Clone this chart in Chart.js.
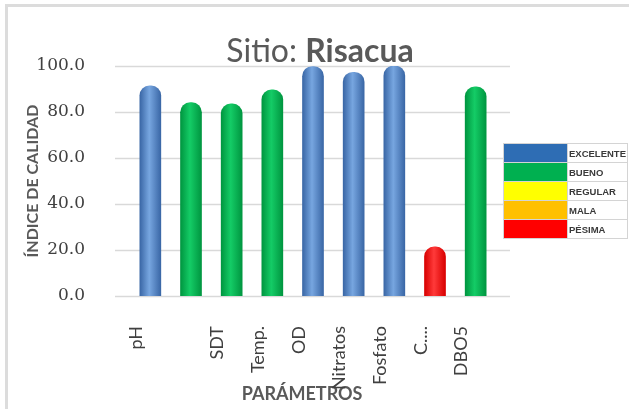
<!DOCTYPE html>
<html>
<head>
<meta charset="utf-8">
<script src="https://cdn.jsdelivr.net/npm/chart.js@4/dist/chart.umd.min.js"></script>
<style>
  body { margin: 0; background: #fff; }
  .wrap { position: relative; width: 629px; height: 409px; overflow: hidden; }
  .frame-l { position: absolute; left: 5px; top: 4px; width: 3px; height: 405px; background: #dcdcdc; }
  .frame-t { position: absolute; left: 5px; top: 4px; width: 624px; height: 3px; background: #dcdcdc; }
  canvas { position: absolute; left: 0; top: 0; }
  .title { position: absolute; left: 0; width: 640px; top: 30px; text-align: center;
    font-family: Lato, "Open Sans", sans-serif; font-size: 32px; color: #595959; }
  .title b { font-weight: bold; }
  table.leyenda { position: absolute; left: 503px; top: 143px; border-collapse: collapse; }
  table.leyenda td { border: 1px solid #d4d4d4; height: 18px; padding: 0; }
  table.leyenda td.sw { width: 63px; }
  table.leyenda td.tx { width: 58px; font-family: "Liberation Sans Narrow", "Liberation Sans", sans-serif;
    font-size: 9.5px; font-weight: bold; color: #3a3a3a; padding-left: 1px; }
</style>
</head>
<body>
<div class="wrap">
  <div class="frame-t"></div>
  <div class="frame-l"></div>
  <canvas id="chart" width="629" height="409"></canvas>
  <div class="title">Sitio: <b>Risacua</b></div>
  <table class="leyenda" id="leyenda"></table>
</div>
<script>
const parametros = ['pH', '', 'SDT', 'Temp.', 'OD', 'Nitratos', 'Fosfato', 'C....', 'DBO5']
const indice = [91.4, 84.1, 83.5, 89.6, 99.8, 97.3, 100, 21.4, 90.9]
const calidad = ['EXCELENTE', 'BUENO', 'BUENO', 'BUENO', 'EXCELENTE', 'EXCELENTE', 'EXCELENTE', 'PÉSIMA', 'BUENO']
const niveles = ['EXCELENTE', 'BUENO', 'REGULAR', 'MALA', 'PÉSIMA']
const nivelColores = ['#2E6DB4', '#00B050', '#FFFF00', '#FFC000', '#FF0000']
const yTicks = [0, 20, 40, 60, 80, 100]

// colores del cilindro: borde, centro
const cilindro = {
  'EXCELENTE': ['#3A67A6', '#77A6E0'],
  'BUENO': ['#009640', '#14CC66'],
  'PÉSIMA': ['#D80000', '#FF3A3A']
}

// leyenda
const tabla = document.getElementById('leyenda')
niveles.forEach((n, i) => {
  const tr = document.createElement('tr')
  tr.innerHTML = '<td class="sw" style="background:' + nivelColores[i] + '"></td><td class="tx">' + n + '</td>'
  tabla.appendChild(tr)
})

const BAR_W = 21

function barFill (c) {
  const chart = c.chart
  const pair = cilindro[calidad[c.dataIndex]]
  const xs = chart.scales.x
  if (!chart.chartArea || !xs) return pair[0]
  const cx = xs.getPixelForValue(c.dataIndex)
  const g = chart.ctx.createLinearGradient(cx - BAR_W / 2, 0, cx + BAR_W / 2, 0)
  g.addColorStop(0, pair[0])
  g.addColorStop(0.45, pair[1])
  g.addColorStop(1, pair[0])
  return g
}

const gridPlugin = {
  id: 'gridExt',
  beforeDatasetsDraw (chart) {
    const { ctx, chartArea } = chart
    const y = chart.scales.y
    ctx.save()
    ctx.strokeStyle = '#d9d9d9'
    ctx.lineWidth = 1.5
    yTicks.forEach(v => {
      const py = Math.round(y.getPixelForValue(v)) + 0.5
      ctx.beginPath()
      ctx.moveTo(chartArea.left - 15, py)
      ctx.lineTo(chartArea.right + 14, py)
      ctx.stroke()
    })
    ctx.restore()
  }
}

new Chart(document.getElementById('chart').getContext('2d'), {
  type: 'bar',
  data: {
    labels: parametros,
    datasets: [{
      data: indice,
      backgroundColor: barFill,
      barThickness: BAR_W,
      borderRadius: { topLeft: 10, topRight: 10, bottomLeft: 0, bottomRight: 0 },
      borderSkipped: false
    }]
  },
  options: {
    responsive: false,
    animation: false,
    layout: { padding: { left: 8, top: 66, right: 133, bottom: 4 } },
    plugins: { legend: { display: false }, tooltip: { enabled: false } },
    scales: {
      y: {
        min: 0,
        max: 100,
        afterFit: s => { s.width = 122 },
        grid: { display: false },
        border: { display: false },
        ticks: {
          stepSize: 20,
          padding: 37,
          color: '#404040',
          font: { family: 'DejaVu Serif', size: 17 },
          callback: v => v.toFixed(1)
        },
        title: {
          display: true,
          text: 'ÍNDICE DE CALIDAD',
          color: '#595959',
          padding: { top: 15, bottom: 0 },
          font: { family: 'Lato', size: 16, weight: 'bold' }
        }
      },
      x: {
        afterFit: s => { s.height = 109 },
        grid: { display: false },
        border: { display: false },
        ticks: {
          autoSkip: false,
          minRotation: 90,
          maxRotation: 90,
          padding: 22,
          labelOffset: -14,
          color: '#404040',
          font: { family: 'Lato', size: 18 }
        },
        title: {
          display: true,
          text: 'PARÁMETROS\u00a0\u00a0\u00a0\u00a0\u00a0',
          color: '#595959',
          padding: 0,
          font: { family: 'Lato', size: 18, weight: 'bold' }
        }
      }
    }
  },
  plugins: [gridPlugin]
})
</script>
</body>
</html>
